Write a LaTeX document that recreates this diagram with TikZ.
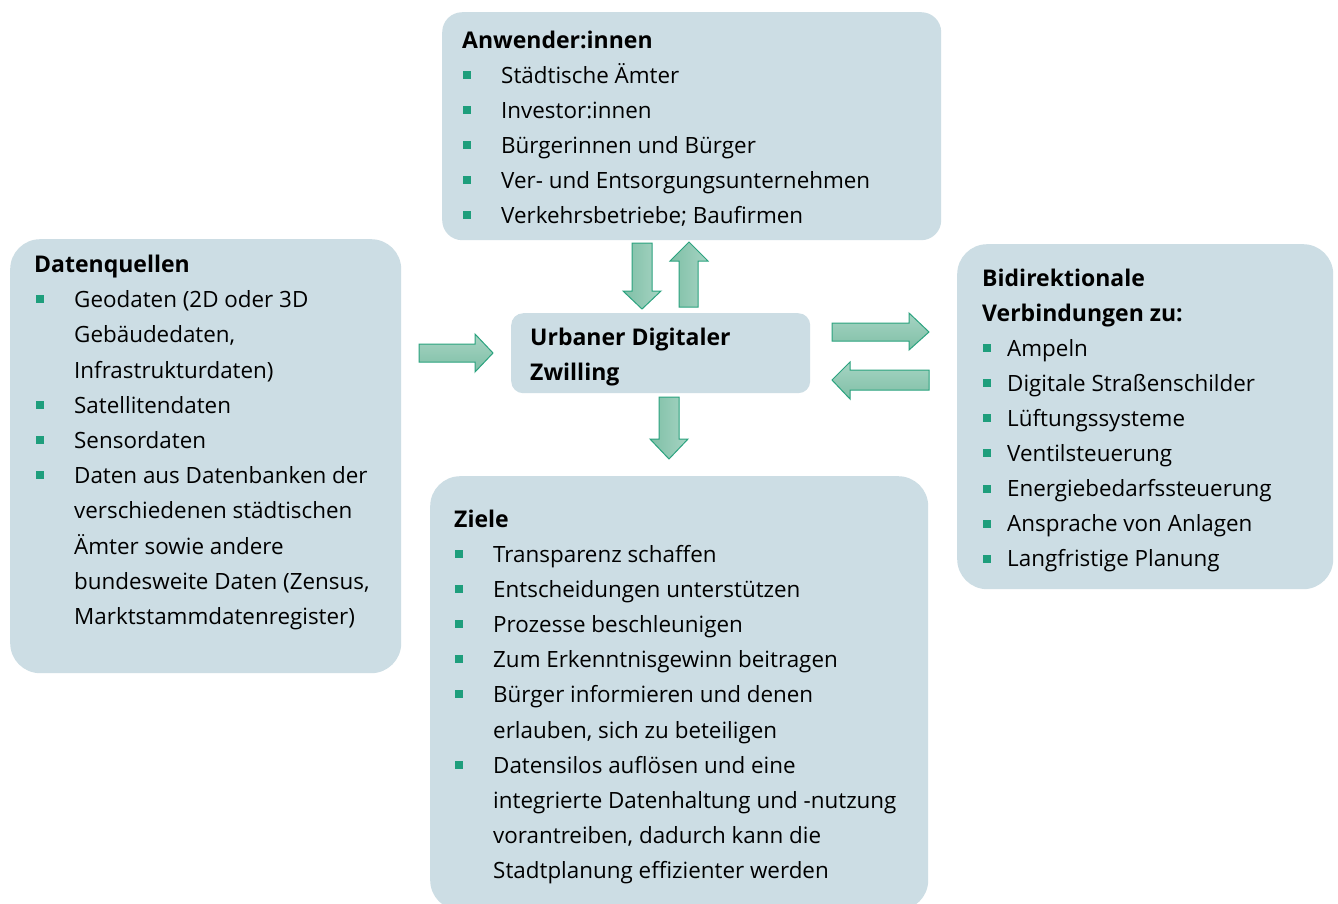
\documentclass[tikz,border=0pt]{standalone}
\usepackage{fontspec}
\setmainfont{Open Sans}
\definecolor{boxc}{HTML}{CCDDE4}
\definecolor{bulc}{HTML}{1E9E7C}
\definecolor{arrdark}{HTML}{7FBFA6}
\definecolor{arrlight}{HTML}{A6D4C3}
\definecolor{arrline}{HTML}{2BA37F}
\begin{document}
\begin{tikzpicture}[x=1pt,y=-1pt,
  box/.style={fill=boxc, draw=none, anchor=north west, inner sep=0pt},
  txt/.style={anchor=base west, inner sep=0pt, yshift=-8pt, font=\fontsize{22.4}{26}\selectfont},
  ttl/.style={anchor=base west, inner sep=0pt, yshift=-8pt, font=\fontsize{23}{27}\selectfont\bfseries},
  bul/.style={fill=bulc, minimum size=8pt, inner sep=0pt},
  barrowv/.style={draw=arrline, line width=1pt, left color=arrdark, right color=arrlight},
  barrowh/.style={draw=arrline, line width=1pt, top color=arrlight, bottom color=arrdark}]
\useasboundingbox (0,0) rectangle (1338,903);
\fill[white] (0,0) rectangle (1338,903);

% boxes
\node[box, rounded corners=20pt, minimum width=499pt, minimum height=228pt] (anw) at (442,12) {};
\node[box, rounded corners=30pt, minimum width=391pt, minimum height=434pt] (dat) at (10,239) {};
\node[box, rounded corners=12pt, minimum width=299pt, minimum height=80pt] (udz) at (511,313) {};
\node[box, rounded corners=30pt, minimum width=376pt, minimum height=345pt] (bid) at (957,244) {};
\node[box, rounded corners=30pt, minimum width=498pt, minimum height=434pt] (zie) at (430,476) {};

% block arrows
\draw[barrowv] (632,243) -- (652,243) -- (652,291) -- (661,291) -- (642,309) -- (623,291) -- (632,291) -- cycle;
\draw[barrowv] (679,307) -- (698,307) -- (698,261) -- (708,261) -- (689,242) -- (670,261) -- (679,261) -- cycle;
\draw[barrowh] (419,344) -- (475,344) -- (475,334) -- (493,353) -- (475,372) -- (475,362) -- (419,362) -- cycle;
\draw[barrowv] (659,397) -- (679,397) -- (679,439) -- (688,439) -- (669,459) -- (650,439) -- (659,439) -- cycle;
\draw[barrowh] (832,323) -- (909,323) -- (909,313) -- (929,332) -- (909,350) -- (909,341) -- (832,341) -- cycle;
\draw[barrowh] (929,370) -- (929,390) -- (850,390) -- (850,399) -- (832,380) -- (850,362) -- (850,370) -- cycle;

% Anwender:innen
\node[ttl] (anwT) at (462,40) {Anwender:innen};
\foreach \t [count=\i] in {{Städtische Ämter}, {Investor:innen}, {Bürgerinnen und Bürger}, {Ver- und Entsorgungsunternehmen}, {Verkehrsbetriebe; Baufirmen}}{
  \node[bul] (anwB\i) at (467,{40+35*\i}) {};
  \node[txt] (anwL\i) at (501,{40+35*\i}) {\t};
}

% Datenquellen
\node[ttl] (datT) at (34,264) {Datenquellen};
\foreach \y in {299,405,440,475}{
  \node[bul] (datB\y) at (40,\y) {};
}
\foreach \t/\y [count=\i] in {{Geodaten (2D oder 3D}/299, {Gebäudedaten,}/334, {Infrastrukturdaten)}/370, {Satellitendaten}/405, {Sensordaten}/440, {Daten aus Datenbanken der}/475, {verschiedenen städtischen}/510, {Ämter sowie andere}/546, {bundesweite Daten (Zensus,}/581, {Marktstammdatenregister)}/616}{
  \node[txt] (datL\i) at (74,\y) {\t};
}

% center
\node[ttl] (udz1) at (530,337) {Urbaner Digitaler};
\node[ttl] (udz2) at (530,372) {Zwilling};

% Bidirektionale
\node[ttl] (bidT1) at (982,278) {Bidirektionale};
\node[ttl] (bidT2) at (982,313) {Verbindungen zu:};
\foreach \t [count=\i] in {{Ampeln}, {Digitale Straßenschilder}, {Lüftungssysteme}, {Ventilsteuerung}, {Energiebedarfssteuerung}, {Ansprache von Anlagen}, {Langfristige Planung}}{
  \node[bul] (bidB\i) at (987,{313+35.1*\i}) {};
  \node[txt] (bidL\i) at (1007,{313+35.1*\i}) {\t};
}

% Ziele
\node[ttl] (zieT) at (454,519) {Ziele};
\foreach \y in {554,589,624,659,694,765}{
  \node[bul] (zieB\y) at (459,\y) {};
}
\foreach \t/\y [count=\i] in {{Transparenz schaffen}/554, {Entscheidungen unterstützen}/589, {Prozesse beschleunigen}/624, {Zum Erkenntnisgewinn beitragen}/659, {Bürger informieren und denen}/694, {erlauben, sich zu beteiligen}/730, {Datensilos auflösen und eine}/765, {integrierte Datenhaltung und -nutzung}/800, {vorantreiben, dadurch kann die}/835, {Stadtplanung effizienter werden}/870}{
  \node[txt] (zieL\i) at (493,\y) {\t};
}
\end{tikzpicture}
\end{document}
